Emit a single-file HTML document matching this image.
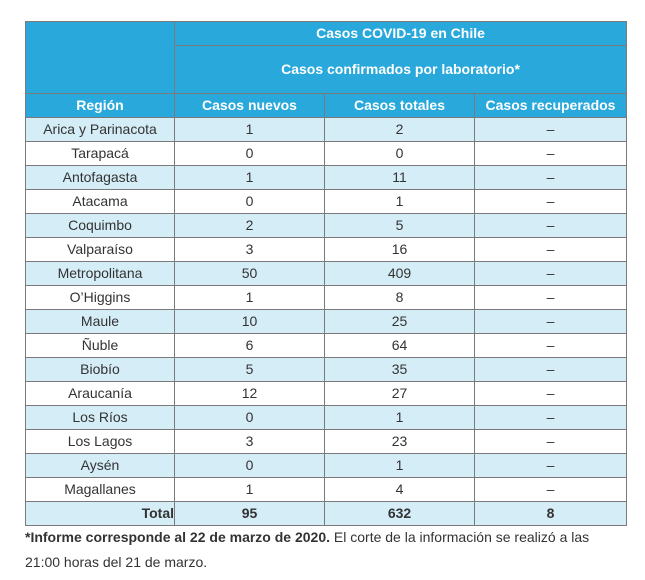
<!DOCTYPE html>
<html><head><style>
body{margin:0;background:#fff;font-family:"Liberation Sans",sans-serif;}
table{position:absolute;left:25px;top:21px;border-collapse:collapse;width:601px;table-layout:fixed;font-size:14px;color:#333;}
td,th{border:1px solid #7a7a7a;text-align:center;padding:0;height:23px;line-height:23px;}
th{background:#29a8dc;color:#fff;font-weight:bold;}
tr.a td{background:#d5edf7;}
.tot td{font-weight:bold;}
p{position:absolute;left:25px;margin:0;font-size:14px;color:#333;}
</style></head><body>
<table>
<colgroup><col style="width:149px"><col style="width:150px"><col style="width:150px"><col style="width:152px"></colgroup>
<tr><th rowspan="2" style="border-bottom:1px solid #7a7a7a"></th><th colspan="3">Casos COVID-19 en Chile</th></tr>
<tr><th colspan="3" style="height:47px">Casos confirmados por laboratorio*</th></tr>
<tr><th>Región</th><th>Casos nuevos</th><th>Casos totales</th><th>Casos recuperados</th></tr>
<tr class="a"><td>Arica y Parinacota</td><td>1</td><td>2</td><td>–</td></tr>
<tr><td>Tarapacá</td><td>0</td><td>0</td><td>–</td></tr>
<tr class="a"><td>Antofagasta</td><td>1</td><td>11</td><td>–</td></tr>
<tr><td>Atacama</td><td>0</td><td>1</td><td>–</td></tr>
<tr class="a"><td>Coquimbo</td><td>2</td><td>5</td><td>–</td></tr>
<tr><td>Valparaíso</td><td>3</td><td>16</td><td>–</td></tr>
<tr class="a"><td>Metropolitana</td><td>50</td><td>409</td><td>–</td></tr>
<tr><td>O’Higgins</td><td>1</td><td>8</td><td>–</td></tr>
<tr class="a"><td>Maule</td><td>10</td><td>25</td><td>–</td></tr>
<tr><td>Ñuble</td><td>6</td><td>64</td><td>–</td></tr>
<tr class="a"><td>Biobío</td><td>5</td><td>35</td><td>–</td></tr>
<tr><td>Araucanía</td><td>12</td><td>27</td><td>–</td></tr>
<tr class="a"><td>Los Ríos</td><td>0</td><td>1</td><td>–</td></tr>
<tr><td>Los Lagos</td><td>3</td><td>23</td><td>–</td></tr>
<tr class="a"><td>Aysén</td><td>0</td><td>1</td><td>–</td></tr>
<tr><td>Magallanes</td><td>1</td><td>4</td><td>–</td></tr>
<tr class="a tot"><td style="text-align:right">Total</td><td>95</td><td>632</td><td>8</td></tr>
</table>
<p style="top:529px"><b>*Informe corresponde al 22 de marzo de 2020.</b> El corte de la información se realizó a las</p>
<p style="top:554px">21:00 horas del 21 de marzo.</p>
</body></html>
